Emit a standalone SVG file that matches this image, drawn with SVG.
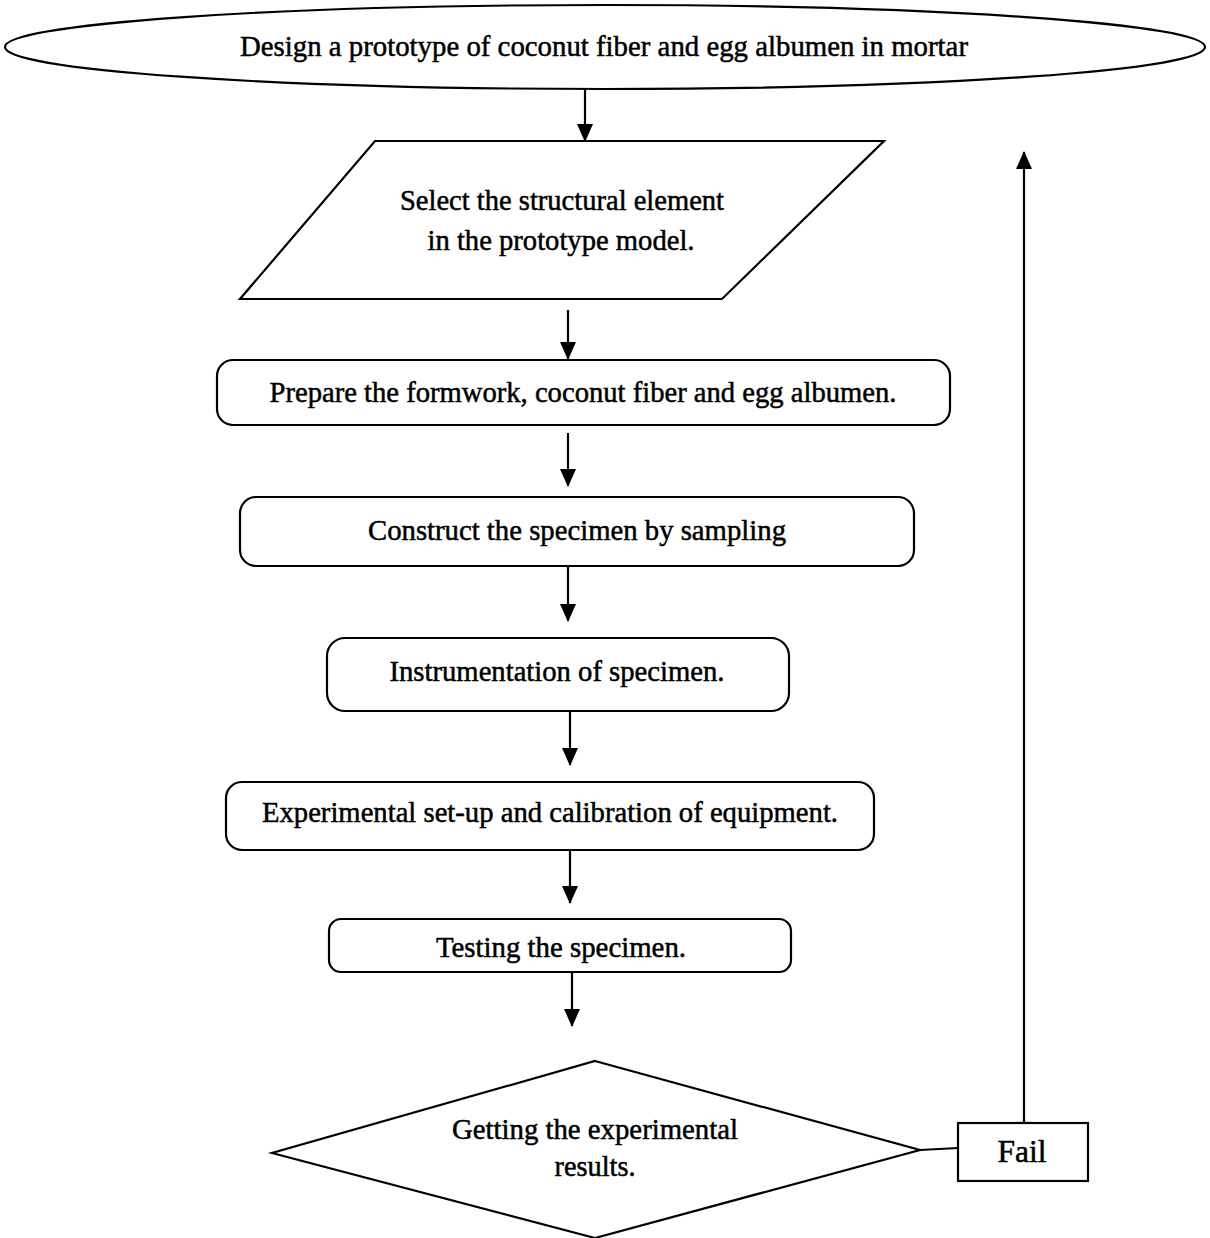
<svg xmlns="http://www.w3.org/2000/svg" width="1210" height="1238" viewBox="0 0 1210 1238">
<style>
.shape{fill:#fff;stroke:#000;stroke-width:2.2}
.lbl{font-family:"Liberation Serif","Times New Roman",serif;font-size:29px;fill:#000;stroke:#000;stroke-width:0.5;text-anchor:middle}
.conn{stroke:#000;stroke-width:2.2;fill:none}
</style>
<defs>
<marker id="ah2" markerUnits="userSpaceOnUse" markerWidth="18" markerHeight="16" refX="17" refY="8" orient="auto" viewBox="0 0 18 16">
<path d="M0,0 L18,8 L0,16 Z" fill="#000"/>
</marker>
</defs>
<g id="connectors">
<line class="conn" x1="585" y1="89" x2="585" y2="141" marker-end="url(#ah2)"/>
<line class="conn" x1="568" y1="310" x2="568" y2="359" marker-end="url(#ah2)"/>
<line class="conn" x1="568" y1="433" x2="568" y2="486" marker-end="url(#ah2)"/>
<line class="conn" x1="568" y1="566" x2="568" y2="621" marker-end="url(#ah2)"/>
<line class="conn" x1="570" y1="711" x2="570" y2="765" marker-end="url(#ah2)"/>
<line class="conn" x1="570" y1="850" x2="570" y2="903" marker-end="url(#ah2)"/>
<line class="conn" x1="572" y1="972" x2="572" y2="1026" marker-end="url(#ah2)"/>
<line class="conn" x1="920" y1="1150" x2="958" y2="1148"/>
<line class="conn" x1="1024" y1="1123" x2="1024" y2="152" marker-end="url(#ah2)"/>
</g>
<g id="n-design">
<ellipse class="shape" cx="605" cy="47" rx="600" ry="42"/>
<text class="lbl" x="604" y="56" textLength="728" lengthAdjust="spacingAndGlyphs">Design a prototype of coconut fiber and egg albumen in mortar</text>
</g>
<g id="n-select">
<polygon class="shape" points="375,141 884,141 722,299 240,299"/>
<text class="lbl" x="562" y="210" textLength="324" lengthAdjust="spacingAndGlyphs">Select the structural element</text>
<text class="lbl" x="561" y="250" textLength="267" lengthAdjust="spacingAndGlyphs">in the prototype model.</text>
</g>
<g id="n-prepare">
<rect class="shape" x="217" y="360" width="733" height="65" rx="16"/>
<text class="lbl" x="583" y="402" textLength="627" lengthAdjust="spacingAndGlyphs">Prepare the formwork, coconut fiber and egg albumen.</text>
</g>
<g id="n-construct">
<rect class="shape" x="240" y="497" width="674" height="69" rx="16"/>
<text class="lbl" x="577" y="540" textLength="418" lengthAdjust="spacingAndGlyphs">Construct the specimen by sampling</text>
</g>
<g id="n-instrument">
<rect class="shape" x="327" y="638" width="462" height="73" rx="18"/>
<text class="lbl" x="557" y="681" textLength="335" lengthAdjust="spacingAndGlyphs">Instrumentation of specimen.</text>
</g>
<g id="n-setup">
<rect class="shape" x="226" y="782" width="648" height="68" rx="16"/>
<text class="lbl" x="550" y="822" textLength="576" lengthAdjust="spacingAndGlyphs">Experimental set-up and calibration of equipment.</text>
</g>
<g id="n-testing">
<rect class="shape" x="329" y="919" width="462" height="53" rx="12"/>
<text class="lbl" x="561" y="957" textLength="250" lengthAdjust="spacingAndGlyphs">Testing the specimen.</text>
</g>
<g id="n-results">
<polygon class="shape" points="595,1061 920,1150 595,1238 272,1153"/>
<text class="lbl" x="595" y="1139" textLength="286" lengthAdjust="spacingAndGlyphs">Getting the experimental</text>
<text class="lbl" x="595" y="1176" textLength="81" lengthAdjust="spacingAndGlyphs">results.</text>
</g>
<g id="n-fail">
<rect class="shape" x="958" y="1123" width="130" height="58"/>
<text class="lbl" x="1022" y="1162" textLength="49" lengthAdjust="spacingAndGlyphs" style="font-size:31px">Fail</text>
</g>
</svg>
